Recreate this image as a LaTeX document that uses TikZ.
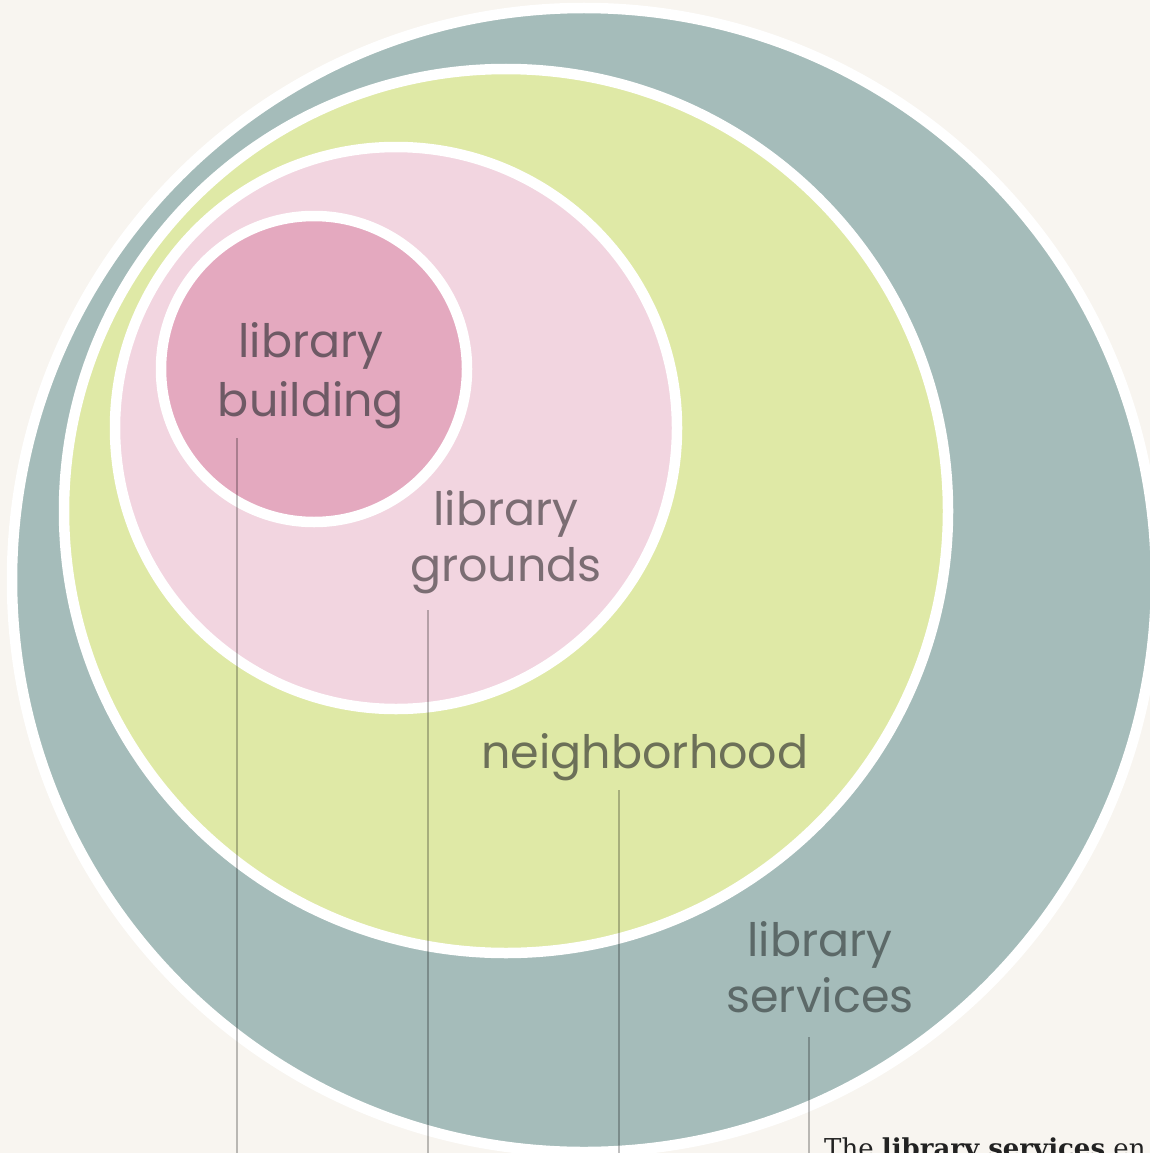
\documentclass[tikz,border=0pt]{standalone}
\usepackage{fontspec}
\newfontfamily\lblfont{Poppins}
\newfontfamily\bodyfont{DejaVu Serif}
\definecolor{bgc}{HTML}{F8F5F0}
\definecolor{tealc}{HTML}{A5BCBA}
\definecolor{greenc}{HTML}{DFE9A6}
\definecolor{pinkl}{HTML}{F2D5E0}
\definecolor{pinkd}{HTML}{E4A9BF}
\definecolor{txtbld}{HTML}{6E5A65}
\definecolor{txtgrd}{HTML}{7B6D73}
\definecolor{txtnbh}{HTML}{6C7058}
\definecolor{txtsvc}{HTML}{5C6968}
\definecolor{bodytext}{HTML}{222222}
\tikzset{
  disc/.style={circle, draw=white, line width=10.5pt, inner sep=0pt},
  lbl/.style={anchor=base, inner sep=0pt, font=\lblfont\fontsize{46}{58}\selectfont},
  leader/.style={draw=black, draw opacity=0.25, line width=2pt},
}
\begin{document}
\begin{tikzpicture}[x=1pt,y=-1pt]
\useasboundingbox (0,0) rectangle (1150,1153);
\clip (0,0) rectangle (1150,1153);
\fill[bgc] (0,0) rectangle (1150,1153);
% circles
\node[disc, fill=tealc,  minimum size=1144pt] (svc) at (584,580) {};
\node[disc, fill=greenc, minimum size=884pt]  (nbh) at (506,511) {};
\node[disc, fill=pinkl,  minimum size=562pt]  (grd) at (396,428) {};
\node[disc, fill=pinkd,  minimum size=306pt]  (bld) at (314,369) {};
% labels
\node[lbl, text=txtbld] (bldA) at (311,357) {library};
\node[lbl, text=txtbld] (bldB) at (311,416) {building};
\node[lbl, text=txtgrd] (grdA) at (506,525) {library};
\node[lbl, text=txtgrd] (grdB) at (506,581) {grounds};
\node[lbl, text=txtnbh] (nbhA) at (645,768) {neighborhood};
\node[lbl, text=txtsvc] (svcA) at (820,956) {library};
\node[lbl, text=txtsvc] (svcB) at (820,1012) {services};
% leader lines
\coordinate (bldTop) at (237,438);  \coordinate (bldEnd) at (237,1160);
\coordinate (grdTop) at (428,610);  \coordinate (grdEnd) at (428,1160);
\coordinate (nbhTop) at (619,790);  \coordinate (nbhEnd) at (619,1160);
\coordinate (svcTop) at (809,1037); \coordinate (svcEnd) at (809,1160);
\draw[leader] (bldTop) -- (bldEnd);
\draw[leader] (grdTop) -- (grdEnd);
\draw[leader] (nbhTop) -- (nbhEnd);
\draw[leader] (svcTop) -- (svcEnd);
% caption (cut by the frame)
\node[anchor=base west, inner sep=0pt, text=bodytext, font=\bodyfont\fontsize{26}{30}\selectfont] (caption) at (824,1157) {The \textbf{library services} en};
\end{tikzpicture}
\end{document}
